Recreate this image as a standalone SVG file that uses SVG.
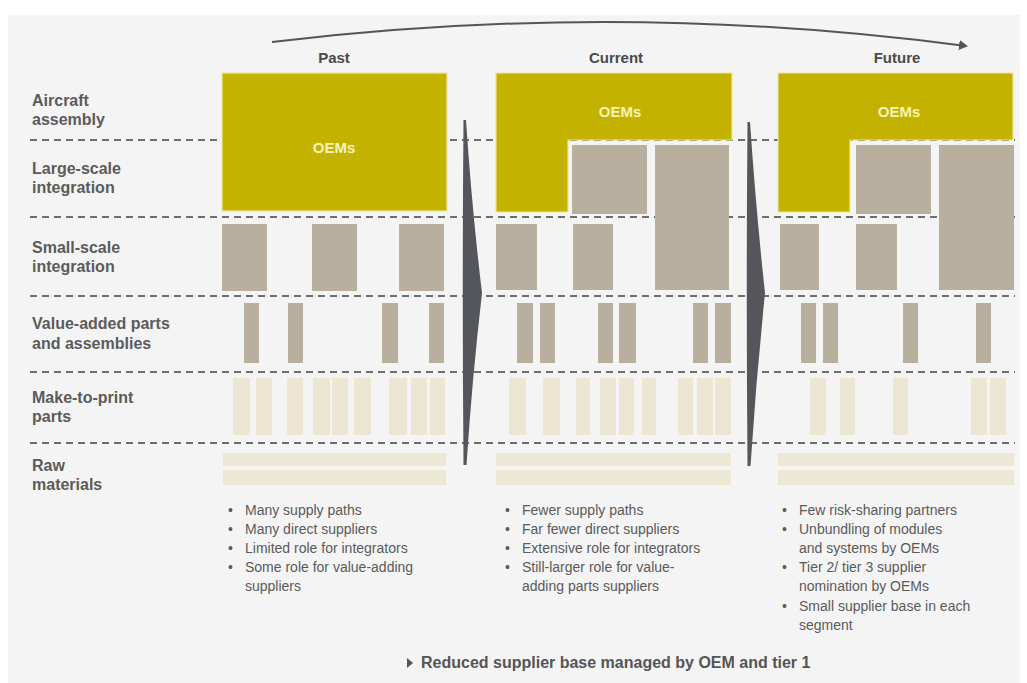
<svg xmlns="http://www.w3.org/2000/svg" width="1027" height="683" viewBox="0 0 1027 683">
<defs>
<style>
.lbl{font-family:"Liberation Sans",Arial,sans-serif;font-weight:bold;font-size:16px;fill:#5b5b5b}
.hdr{font-family:"Liberation Sans",Arial,sans-serif;font-weight:bold;font-size:15px;fill:#4a4a4a;text-anchor:middle}
.oem{fill:#c3b300;stroke:#efe79a;stroke-width:1.2}
.oemt{font-family:"Liberation Sans",Arial,sans-serif;font-weight:bold;font-size:15px;fill:#f7f1b8;text-anchor:middle}
.g{fill:#b9af9e}
.m{fill:#ece6d3}
.r{fill:#ede7d6}
.dash{stroke:#6e6e6e;stroke-width:2;stroke-dasharray:7 5;fill:none}
.bul{font-family:"Liberation Sans",Arial,sans-serif;font-size:14px;fill:#5a5a5a}
.foot{font-family:"Liberation Sans",Arial,sans-serif;font-weight:bold;font-size:16px;fill:#555}
.big{fill:#55565c}
</style>
<marker id="ah" markerWidth="10" markerHeight="10" refX="7" refY="5" orient="auto" markerUnits="userSpaceOnUse">
<path d="M0,0 L9,5 L0,10 Z" fill="#555"/>
</marker>
</defs>
<rect x="0" y="0" width="1027" height="683" fill="#ffffff"/>
<rect x="8" y="15" width="1012" height="668" fill="#f4f4f4"/>

<g id="gridlines">
<line class="dash" x1="30" y1="140" x2="1015" y2="140"/>
<line class="dash" x1="30" y1="217" x2="1015" y2="217"/>
<line class="dash" x1="30" y1="296" x2="1015" y2="296"/>
<line class="dash" x1="30" y1="372" x2="1015" y2="372"/>
<line class="dash" x1="30" y1="443" x2="1015" y2="443"/>
</g>

<g id="row-labels">
<text class="lbl" x="32" y="106">Aircraft</text>
<text class="lbl" x="32" y="125">assembly</text>
<text class="lbl" x="32" y="174">Large-scale</text>
<text class="lbl" x="32" y="193">integration</text>
<text class="lbl" x="32" y="253">Small-scale</text>
<text class="lbl" x="32" y="272">integration</text>
<text class="lbl" x="32" y="329">Value-added parts</text>
<text class="lbl" x="32" y="349">and assemblies</text>
<text class="lbl" x="32" y="403">Make-to-print</text>
<text class="lbl" x="32" y="422">parts</text>
<text class="lbl" x="32" y="471">Raw</text>
<text class="lbl" x="32" y="490">materials</text>
</g>

<g id="headers">
<text class="hdr" x="334" y="63">Past</text>
<text class="hdr" x="616" y="63">Current</text>
<text class="hdr" x="897" y="63">Future</text>
</g>

<g id="past">
<rect class="oem" x="222" y="73" width="225" height="138"/>
<text class="oemt" x="334" y="153">OEMs</text>
<rect class="g" x="222" y="224" width="45" height="67"/>
<rect class="g" x="312" y="224" width="45" height="67"/>
<rect class="g" x="399" y="224" width="45" height="67"/>
<rect class="g" x="244" y="303" width="15" height="60"/>
<rect class="g" x="288" y="303" width="15" height="60"/>
<rect class="g" x="382" y="303" width="16" height="60"/>
<rect class="g" x="429" y="303" width="15" height="60"/>
<rect class="m" x="233" y="378" width="17" height="57"/>
<rect class="m" x="256" y="378" width="16" height="57"/>
<rect class="m" x="287" y="378" width="16" height="57"/>
<rect class="m" x="313" y="378" width="17" height="57"/>
<rect class="m" x="332" y="378" width="16" height="57"/>
<rect class="m" x="354" y="378" width="17" height="57"/>
<rect class="m" x="389" y="378" width="18" height="57"/>
<rect class="m" x="411" y="378" width="16" height="57"/>
<rect class="m" x="430" y="378" width="15" height="57"/>
<rect class="r" x="223" y="453" width="223" height="13"/>
<rect class="r" x="223" y="470" width="223" height="15"/>
</g>

<g id="current">
<path class="oem" d="M496,73 H732 V140 H568 V212 H496 Z"/>
<text class="oemt" x="620" y="117">OEMs</text>
<rect class="g" x="572" y="145" width="75" height="69"/>
<rect class="g" x="655" y="145" width="74" height="145"/>
<rect class="g" x="496" y="224" width="41" height="66"/>
<rect class="g" x="573" y="224" width="40" height="66"/>
<rect class="g" x="517" y="303" width="16" height="60"/>
<rect class="g" x="540" y="303" width="15" height="60"/>
<rect class="g" x="598" y="303" width="15" height="60"/>
<rect class="g" x="619" y="303" width="17" height="60"/>
<rect class="g" x="693" y="303" width="15" height="60"/>
<rect class="g" x="715" y="303" width="16" height="60"/>
<rect class="m" x="509" y="378" width="17" height="57"/>
<rect class="m" x="543" y="378" width="17" height="57"/>
<rect class="m" x="576" y="378" width="14" height="57"/>
<rect class="m" x="600" y="378" width="16" height="57"/>
<rect class="m" x="619" y="378" width="15" height="57"/>
<rect class="m" x="642" y="378" width="14" height="57"/>
<rect class="m" x="678" y="378" width="15" height="57"/>
<rect class="m" x="697" y="378" width="16" height="57"/>
<rect class="m" x="715" y="378" width="16" height="57"/>
<rect class="r" x="496" y="453" width="235" height="13"/>
<rect class="r" x="496" y="470" width="235" height="15"/>
</g>

<g id="future">
<path class="oem" d="M778,73 H1013 V140 H850 V212 H778 Z"/>
<text class="oemt" x="899" y="117">OEMs</text>
<rect class="g" x="856" y="145" width="75" height="69"/>
<rect class="g" x="939" y="145" width="75" height="145"/>
<rect class="g" x="780" y="224" width="39" height="66"/>
<rect class="g" x="856" y="224" width="41" height="66"/>
<rect class="g" x="801" y="303" width="15" height="60"/>
<rect class="g" x="823" y="303" width="15" height="60"/>
<rect class="g" x="903" y="303" width="15" height="60"/>
<rect class="g" x="976" y="303" width="15" height="60"/>
<rect class="m" x="810" y="378" width="16" height="57"/>
<rect class="m" x="840" y="378" width="15" height="57"/>
<rect class="m" x="893" y="378" width="15" height="57"/>
<rect class="m" x="971" y="378" width="16" height="57"/>
<rect class="m" x="990" y="378" width="16" height="57"/>
<rect class="r" x="778" y="453" width="236" height="13"/>
<rect class="r" x="778" y="470" width="236" height="15"/>
</g>

<g id="connectors">
<path d="M272,42 Q620,0 966,46" fill="none" stroke="#555" stroke-width="2" marker-end="url(#ah)"/>
<path class="big" d="M463.5,120 L466,120 Q472,210 482,293 Q472,380 466.5,465 L463.5,465 Q462,293 463.5,120 Z"/>
<path class="big" d="M747.5,122 L750,122 Q756,210 765,293 Q756,380 750.5,466 L747.5,466 Q746,293 747.5,122 Z"/>
</g>

<g id="notes-past">
<text class="bul" x="228" y="515">•</text><text class="bul" x="245" y="515">Many supply paths</text>
<text class="bul" x="228" y="534">•</text><text class="bul" x="245" y="534">Many direct suppliers</text>
<text class="bul" x="228" y="553">•</text><text class="bul" x="245" y="553">Limited role for integrators</text>
<text class="bul" x="228" y="572">•</text><text class="bul" x="245" y="572">Some role for value-adding</text>
<text class="bul" x="245" y="591">suppliers</text>
</g>
<g id="notes-current">
<text class="bul" x="505" y="515">•</text><text class="bul" x="522" y="515">Fewer supply paths</text>
<text class="bul" x="505" y="534">•</text><text class="bul" x="522" y="534">Far fewer direct suppliers</text>
<text class="bul" x="505" y="553">•</text><text class="bul" x="522" y="553">Extensive role for integrators</text>
<text class="bul" x="505" y="572">•</text><text class="bul" x="522" y="572">Still-larger role for value-</text>
<text class="bul" x="522" y="591">adding parts suppliers</text>
</g>
<g id="notes-future">
<text class="bul" x="782" y="515">•</text><text class="bul" x="799" y="515">Few risk-sharing partners</text>
<text class="bul" x="782" y="534">•</text><text class="bul" x="799" y="534">Unbundling of modules</text>
<text class="bul" x="799" y="553">and systems by OEMs</text>
<text class="bul" x="782" y="572">•</text><text class="bul" x="799" y="572">Tier 2/ tier 3 supplier</text>
<text class="bul" x="799" y="591">nomination by OEMs</text>
<text class="bul" x="782" y="611">•</text><text class="bul" x="799" y="611">Small supplier base in each</text>
<text class="bul" x="799" y="630">segment</text>
</g>
<g id="footer">
<path d="M407,658 L413,663 L407,668 Z" fill="#555"/>
<text class="foot" x="421" y="668">Reduced supplier base managed by OEM and tier 1</text>
</g>
</svg>
